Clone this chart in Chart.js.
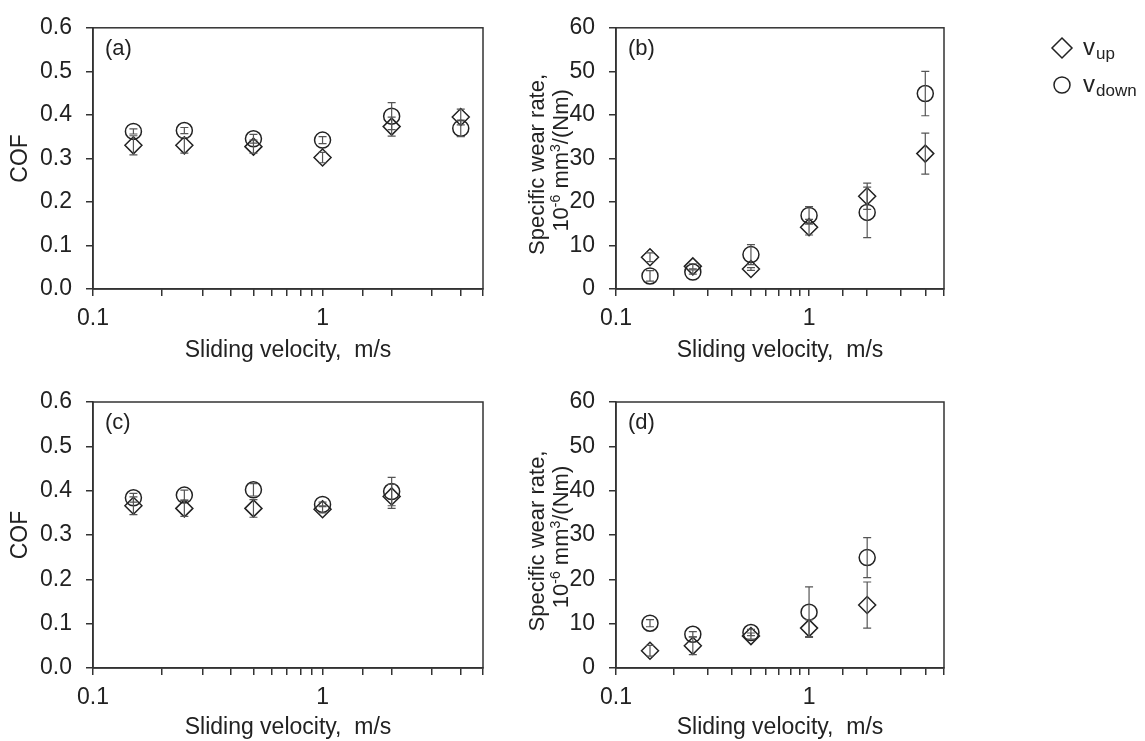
<!DOCTYPE html>
<html>
<head>
<meta charset="utf-8">
<script src="https://cdn.jsdelivr.net/npm/chart.js@4.4.0/dist/chart.umd.min.js"></script>
<style>
body{margin:0;background:#fff;width:1145px;height:741px;overflow:hidden;position:relative}
canvas{position:absolute}
</style>
</head>
<body>
<canvas id="chartA" width="500" height="370" style="left:0px;top:0px"></canvas>
<canvas id="chartB" width="645" height="370" style="left:500px;top:0px"></canvas>
<canvas id="chartC" width="500" height="371" style="left:0px;top:370px"></canvas>
<canvas id="chartD" width="645" height="371" style="left:500px;top:370px"></canvas>
<script>
// sliding velocities, m/s
const velAB = [0.15, 0.25, 0.5, 1, 2, 4]
const velCD = [0.15, 0.25, 0.5, 1, 2]

// (a) COF
const cofUpA = [0.330, 0.330, 0.327, 0.302, 0.373, 0.395]
const cofUpErrA = [0.022, 0.018, 0.015, 0.012, 0.022, 0.018]
const cofDownA = [0.362, 0.364, 0.345, 0.342, 0.397, 0.369]
const cofDownErrA = [0.006, 0.007, 0.010, 0.008, 0.031, 0.019]

// (b) specific wear rate
const wearUpB = [7.3, 5.2, 4.6, 14.2, 21.3, 31.1]
const wearUpErrB = [1.0, 0.6, 0.3, 1.8, 3.0, 4.7]
const wearDownB = [3.0, 3.9, 7.9, 16.9, 17.6, 44.9]
const wearDownErrB = [1.2, 0.5, 2.3, 2.0, 5.8, 5.1]

// (c) COF
const cofUpC = [0.366, 0.360, 0.360, 0.358, 0.387]
const cofUpErrC = [0.020, 0.018, 0.020, 0.008, 0.027]
const cofDownC = [0.384, 0.390, 0.402, 0.369, 0.398]
const cofDownErrC = [0.010, 0.011, 0.014, 0.005, 0.032]

// (d) specific wear rate
const wearUpD = [3.9, 5.0, 7.2, 9.0, 14.2]
const wearUpErrD = [1.2, 2.0, 0.7, 1.9, 5.2]
const wearDownD = [10.1, 7.6, 8.0, 12.6, 24.9]
const wearDownErrD = [0.8, 0.6, 0.7, 5.7, 4.5]

const xTickLabels = ['0.1', '1']

const FONT = "'Liberation Sans', Arial, sans-serif"
Chart.defaults.font.family = FONT
Chart.defaults.font.size = 23
Chart.defaults.color = '#222'

const ink = '#222'

const errorBars = {
  id: 'errorBars',
  afterDatasetsDraw(chart) {
    const ctx = chart.ctx, xs = chart.scales.x, ys = chart.scales.y
    ctx.save()
    ctx.strokeStyle = '#555'
    ctx.lineWidth = 1.2
    chart.data.datasets.forEach(ds => {
      ds.data.forEach((p, i) => {
        const e = ds.errors[i]
        const px = xs.getPixelForValue(p.x)
        const top = ys.getPixelForValue(p.y + e)
        const bot = ys.getPixelForValue(p.y - e)
        ctx.beginPath()
        ctx.moveTo(px, top); ctx.lineTo(px, bot)
        ctx.moveTo(px - 4, top); ctx.lineTo(px + 4, top)
        ctx.moveTo(px - 4, bot); ctx.lineTo(px + 4, bot)
        ctx.stroke()
      })
    })
    ctx.restore()
  }
}

const frame = {
  id: 'frame',
  afterDraw(chart) {
    const {ctx, chartArea: a} = chart
    ctx.save()
    ctx.strokeStyle = '#333'
    ctx.lineWidth = 1.5
    ctx.strokeRect(a.left, a.top, a.right - a.left, a.bottom - a.top)
    ctx.fillStyle = ink
    ctx.font = '22px ' + FONT
    ctx.textBaseline = 'middle'
    ctx.fillText(chart.options.plugins.frame.label, a.left + 12, a.top + 21)
    ctx.restore()
  }
}

// two-line y title with real superscripts for the wear panels
const wearTitle = {
  id: 'wearTitle',
  afterDraw(chart) {
    if (!chart.options.plugins.wearTitle.show) return
    const {ctx, chartArea: a} = chart
    const cy = (a.top + a.bottom) / 2
    ctx.save()
    ctx.fillStyle = ink
    ctx.textBaseline = 'alphabetic'
    // line 1
    ctx.save()
    ctx.translate(a.left - 72, cy + 6)
    ctx.rotate(-Math.PI / 2)
    ctx.font = '22px ' + FONT
    ctx.textAlign = 'center'
    ctx.fillText('Specific wear rate,', 0, 0)
    ctx.restore()
    // line 2
    const parts = [['10', 0], ['-6', 1], [' mm', 0], ['3', 1], ['/(Nm)', 0]]
    const fontOf = sup => (sup ? '14px ' : '22px ') + FONT
    let total = 0
    parts.forEach(([t, sup]) => { ctx.font = fontOf(sup); total += ctx.measureText(t).width })
    ctx.save()
    ctx.translate(a.left - 48, cy + 2)
    ctx.rotate(-Math.PI / 2)
    ctx.textAlign = 'left'
    let x = -total / 2
    parts.forEach(([t, sup]) => {
      ctx.font = fontOf(sup)
      ctx.fillText(t, x, sup ? -8 : 0)
      x += ctx.measureText(t).width
    })
    ctx.restore()
    ctx.restore()
  }
}

// legend with subscripts, drawn to the right of panel (b)
const sideLegend = {
  id: 'sideLegend',
  afterDraw(chart) {
    if (!chart.options.plugins.sideLegend.show) return
    const {ctx, chartArea: a} = chart
    const mx = a.right + 118
    const tx = a.right + 139
    ctx.save()
    ctx.strokeStyle = ink
    ctx.fillStyle = ink
    ctx.lineWidth = 1.5
    ctx.beginPath()
    ctx.moveTo(mx, 38); ctx.lineTo(mx + 10, 48); ctx.lineTo(mx, 58); ctx.lineTo(mx - 10, 48); ctx.closePath()
    ctx.stroke()
    ctx.beginPath()
    ctx.arc(mx, 85, 8, 0, Math.PI * 2)
    ctx.stroke()
    const rows = [['up', 55], ['down', 92]]
    rows.forEach(([sub, base]) => {
      ctx.font = '24px ' + FONT
      ctx.fillText('v', tx, base)
      const w = ctx.measureText('v').width
      ctx.font = '17px ' + FONT
      ctx.fillText(sub, tx + w + 1, base + 4)
    })
    ctx.restore()
  }
}

function makeChart(id, cfg) {
  return new Chart(document.getElementById(id), {
    type: 'scatter',
    data: {
      datasets: [
        {
          label: 'v up',
          data: cfg.vel.map((v, i) => ({x: v, y: cfg.up[i]})),
          errors: cfg.upErr,
          pointStyle: 'rectRot',
          pointRadius: 8.5,
          borderColor: ink,
          backgroundColor: 'rgba(0,0,0,0)',
          borderWidth: 1.5
        },
        {
          label: 'v down',
          data: cfg.vel.map((v, i) => ({x: v, y: cfg.down[i]})),
          errors: cfg.downErr,
          pointStyle: 'circle',
          pointRadius: 8,
          borderColor: ink,
          backgroundColor: 'rgba(0,0,0,0)',
          borderWidth: 1.5
        }
      ]
    },
    options: {
      responsive: false,
      animation: false,
      layout: {padding: {top: cfg.padTop, right: cfg.padRight, left: 0, bottom: 0}},
      plugins: {
        legend: {display: false},
        tooltip: {enabled: false},
        frame: {label: cfg.label},
        wearTitle: {show: !cfg.yTitle},
        sideLegend: {show: !!cfg.legend}
      },
      scales: {
        x: {
          type: 'logarithmic',
          min: 0.1,
          max: 5,
          afterFit: s => { s.height = cfg.xHeight },
          border: {color: '#333', width: 1.5},
          grid: {drawOnChartArea: false, drawTicks: true, tickLength: 7, color: '#333', lineWidth: 1.5},
          ticks: {
            autoSkip: false,
            maxRotation: 0,
            padding: 9,
            color: ink,
            callback: v => {
              if (Math.abs(v - 0.1) < 1e-9) return xTickLabels[0]
              if (Math.abs(v - 1) < 1e-9) return xTickLabels[1]
              return ''
            }
          },
          title: {display: true, text: 'Sliding velocity,  m/s', color: ink, padding: {top: 0, bottom: cfg.xTitlePad}}
        },
        y: {
          min: 0,
          max: cfg.yMax,
          afterFit: s => { s.width = cfg.yWidth },
          border: {color: '#333', width: 1.5},
          grid: {drawOnChartArea: false, drawTicks: true, tickLength: 7, color: '#333', lineWidth: 1.5},
          ticks: {
            stepSize: cfg.yStep,
            padding: 14,
            color: ink,
            callback: v => v.toFixed(cfg.decimals)
          },
          title: {display: !!cfg.yTitle, text: cfg.yTitle || '', color: ink, padding: {top: 7, bottom: 0}}
        }
      }
    },
    plugins: [errorBars, frame, wearTitle, sideLegend]
  })
}

makeChart('chartA', {vel: velAB, up: cofUpA, upErr: cofUpErrA, down: cofDownA, downErr: cofDownErrA,
  yMax: 0.6, yStep: 0.1, decimals: 1, yTitle: 'COF', label: '(a)',
  yWidth: 93, xHeight: 81, padTop: 22, padRight: 17, xTitlePad: 6})

makeChart('chartB', {vel: velAB, up: wearUpB, upErr: wearUpErrB, down: wearDownB, downErr: wearDownErrB,
  yMax: 60, yStep: 10, decimals: 0, yTitle: null, label: '(b)',
  yWidth: 116, xHeight: 81, padTop: 22, padRight: 201, xTitlePad: 6, legend: true})

makeChart('chartC', {vel: velCD, up: cofUpC, upErr: cofUpErrC, down: cofDownC, downErr: cofDownErrC,
  yMax: 0.6, yStep: 0.1, decimals: 1, yTitle: 'COF', label: '(c)',
  yWidth: 93, xHeight: 73, padTop: 32, padRight: 17, xTitlePad: 0})

makeChart('chartD', {vel: velCD, up: wearUpD, upErr: wearUpErrD, down: wearDownD, downErr: wearDownErrD,
  yMax: 60, yStep: 10, decimals: 0, yTitle: null, label: '(d)',
  yWidth: 116, xHeight: 73, padTop: 32, padRight: 201, xTitlePad: 0})
</script>
</body>
</html>
